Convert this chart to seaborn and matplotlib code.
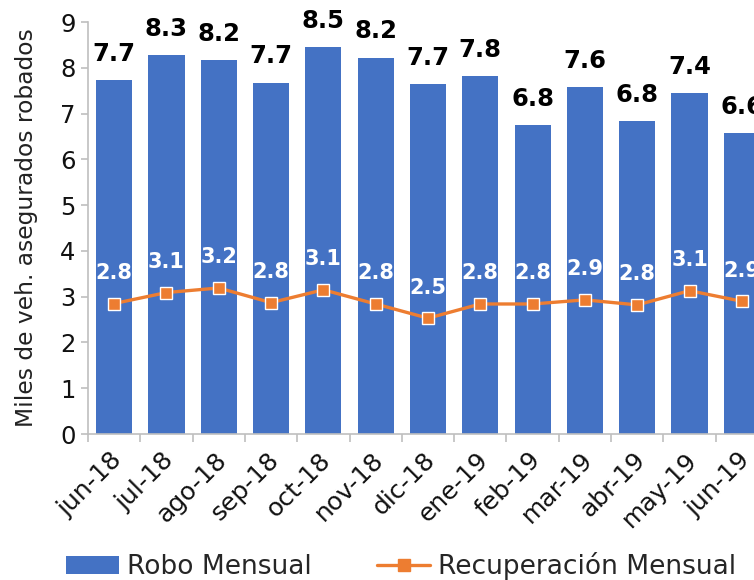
import matplotlib
matplotlib.use("Agg")
import matplotlib.pyplot as plt
import matplotlib.transforms as mtransforms
import seaborn as sns
import numpy as np
import pandas as pd
from matplotlib.patches import Patch
from matplotlib.lines import Line2D
from matplotlib.ticker import FixedLocator

months = ["jun-18", "jul-18", "ago-18", "sep-18", "oct-18", "nov-18", "dic-18",
          "ene-19", "feb-19", "mar-19", "abr-19", "may-19", "jun-19"]
robo = [7.73, 8.28, 8.17, 7.67, 8.45, 8.22, 7.64, 7.81, 6.75, 7.58, 6.83, 7.44, 6.57]
recuperacion = [2.85, 3.09, 3.19, 2.87, 3.15, 2.84, 2.53, 2.84, 2.84, 2.93, 2.82, 3.13, 2.90]
robo_labels = ["7.7", "8.3", "8.2", "7.7", "8.5", "8.2", "7.7", "7.8", "6.8", "7.6", "6.8", "7.4", "6.6"]
recup_labels = ["2.8", "3.1", "3.2", "2.8", "3.1", "2.8", "2.5", "2.8", "2.8", "2.9", "2.8", "3.1", "2.9"]
y_label = "Miles de veh. asegurados robados"
legend_labels = ["Robo Mensual", "Recuperación Mensual"]

BLUE = "#4472C4"
ORANGE = "#ED7D31"
GREY = "#BFBFBF"

sns.set_theme(style="white")
plt.rcParams["font.family"] = ["DejaVu Sans"]

df = pd.DataFrame({"mes": months, "robo": robo, "recup": recuperacion})

fig = plt.figure(figsize=(7.54, 5.80), dpi=100)
ax = fig.add_axes([88/754, 1-434/580, 680/754, 412/580])

sns.barplot(data=df, x="mes", y="robo", color=BLUE, saturation=1, width=0.69,
            edgecolor="none", linewidth=0, ax=ax)
sns.pointplot(data=df, x="mes", y="recup", color=ORANGE, markers="s", markersize=9,
              linewidth=2.4, markeredgecolor="white", markeredgewidth=1.0, ax=ax)

ax.set_xlim(-0.5, 12.5)
ax.set_ylim(0, 9)
ax.set_yticks(range(0, 10))
ax.set_xlabel("")
ax.set_ylabel(y_label, fontsize=16.8, color="#222222", labelpad=16)

for i, (v, lab) in enumerate(zip(robo, robo_labels)):
    ax.annotate(lab, (i, v), xytext=(0, 19), textcoords="offset points",
                ha="center", va="center", fontsize=17.5, fontweight="bold", color="black")
for i, (v, lab) in enumerate(zip(recuperacion, recup_labels)):
    ax.annotate(lab, (i, v), xytext=(0, 22), textcoords="offset points",
                ha="center", va="center", fontsize=15, fontweight="bold", color="white")

for s in ["top", "right"]:
    ax.spines[s].set_visible(False)
for s in ["left", "bottom"]:
    ax.spines[s].set_color(GREY)
    ax.spines[s].set_linewidth(1.2)

ax.tick_params(axis="y", which="major", direction="out", length=5, width=1.2, color=GREY,
               labelsize=17.5, labelcolor="#111111", pad=4, left=True)
ax.xaxis.set_minor_locator(FixedLocator(np.arange(-0.5, 13, 1)))
ax.tick_params(axis="x", which="minor", direction="out", length=6, width=1.2, color=GREY, bottom=True)
ax.tick_params(axis="x", which="major", length=0, labelsize=18, labelcolor="#111111", pad=16)
shift = mtransforms.ScaledTranslation(4/100, 0, fig.dpi_scale_trans)
for t in ax.get_xticklabels():
    t.set_rotation(45)
    t.set_ha("right")
    t.set_va("center")
    t.set_rotation_mode("anchor")
    t.set_transform(t.get_transform() + shift)

handles = [Patch(facecolor=BLUE, edgecolor="none"),
           Line2D([0], [0], color=ORANGE, lw=2.4, marker="s", markersize=8,
                  markeredgecolor=ORANGE)]
fig.legend(handles, legend_labels, loc="center", bbox_to_anchor=(401/754, 1-566/580),
           ncol=2, frameon=False, fontsize=19, handlelength=2.0, handleheight=0.7,
           handletextpad=0.3, columnspacing=2.5, borderpad=0)

fig.savefig("out.png", dpi=100)
